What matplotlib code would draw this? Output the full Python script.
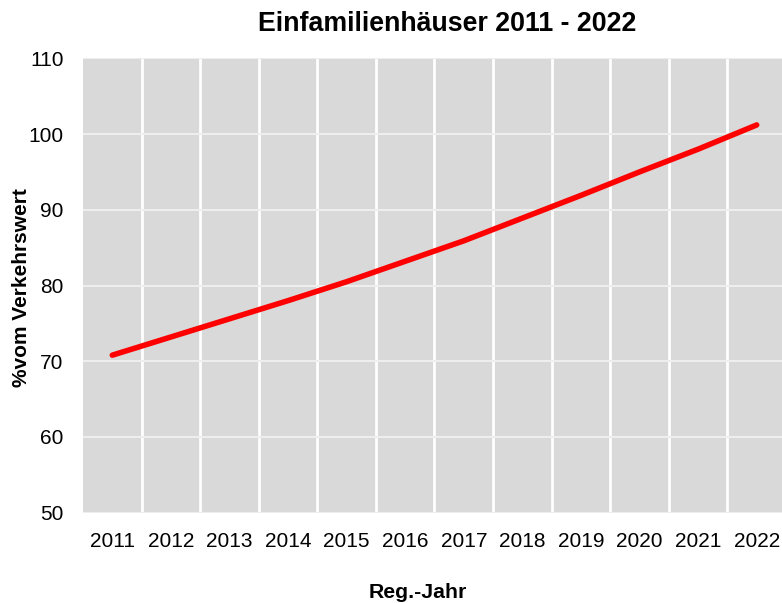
import matplotlib.pyplot as plt

# data
years = ['2011', '2012', '2013', '2014', '2015', '2016',
         '2017', '2018', '2019', '2020', '2021', '2022']
values = [70.8, 73.2, 75.6, 78.0, 80.5, 83.2, 85.9, 88.9, 91.9, 95.0, 98.0, 101.2]
y_ticks = [50, 60, 70, 80, 90, 100, 110]

plt.rcParams['font.family'] = ['Liberation Sans', 'DejaVu Sans']

fig = plt.figure(figsize=(7.82, 6.03), dpi=100)
ax = fig.add_axes([83 / 782, 1 - 512.7 / 603, 703 / 782, (512.7 - 58.3) / 603])

x = list(range(len(years)))
ax.set_facecolor('#D9D9D9')
ax.set_xlim(-0.5, len(years) - 0.5)
ax.set_ylim(50, 110)

# grid: white verticals between categories, faint horizontals
ax.set_xticks([i + 0.5 for i in x[:-1]], minor=True)
ax.grid(True, which='minor', axis='x', color='white', linewidth=2)
ax.set_yticks(y_ticks)
ax.grid(True, which='major', axis='y', color='#EEEEEE', linewidth=1.5)
ax.set_axisbelow(True)

ax.plot(x, values, color='#FF0000', linewidth=4, solid_capstyle='round',
        solid_joinstyle='round')

ax.set_xticks(x)
ax.set_xticklabels(years)
ax.tick_params(axis='both', which='both', length=0, labelsize=15, colors='black')
ax.tick_params(axis='x', pad=14)
ax.tick_params(axis='y', pad=14)

for s in ax.spines.values():
    s.set_visible(False)

fig.text(446.7 / 782, 1 - 24 / 603, 'Einfamilienhäuser 2011 - 2022',
         fontsize=19.3, fontweight='bold', ha='center', va='center')
fig.text(418 / 782, 1 - 592 / 603, 'Reg.-Jahr',
         fontsize=15.3, fontweight='bold', ha='center', va='center')
fig.text(22 / 782, 1 - 288 / 603, '%vom Verkehrswert', rotation=90,
         fontsize=15, fontweight='bold', ha='center', va='center')

plt.savefig('out.png', dpi=100)
plt.close()
